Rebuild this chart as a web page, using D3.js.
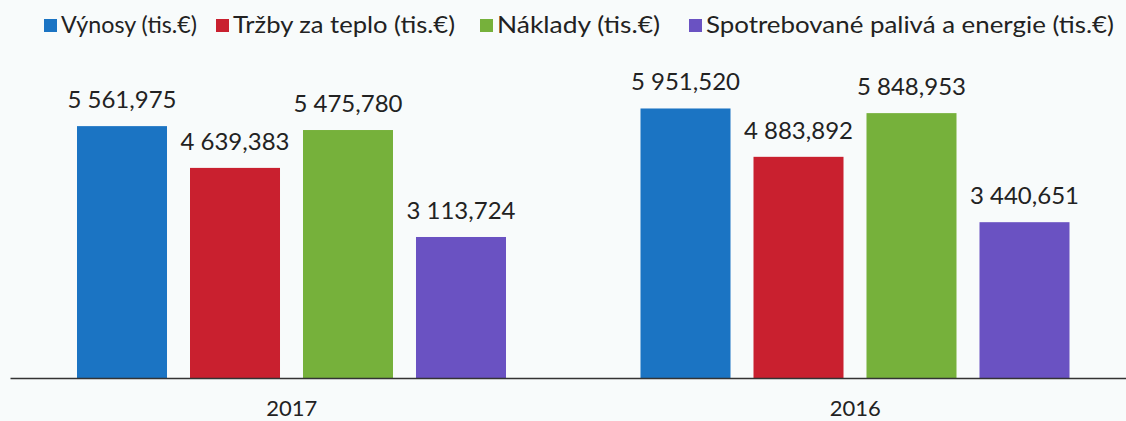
<!DOCTYPE html>
<html><head><meta charset="utf-8">
<script src="https://cdn.jsdelivr.net/npm/d3@7"></script>
<style>body{margin:0;background:#f8fbfb;}svg{display:block;}</style>
</head><body>
<svg id="c" width="1126" height="421"></svg>
<script>
const categories = ["2017", "2016"];
const seriesNames = ["Výnosy (tis.€)", "Tržby za teplo (tis.€)", "Náklady (tis.€)", "Spotrebované palivá a energie (tis.€)"];
const seriesColors = ["#1b74c3", "#c9202f", "#76b13b", "#6a52c2"];
const vynosy = [5561.975, 5951.520];
const trzby = [4639.383, 4883.892];
const naklady = [5475.780, 5848.953];
const spotreba = [3113.724, 3440.651];
const valueLabels = [["5 561,975","5 951,520"],["4 639,383","4 883,892"],["5 475,780","5 848,953"],["3 113,724","3 440,651"]];
const series = [vynosy, trzby, naklady, spotreba];

const svg = d3.select("#c");
const font = "Lato, 'Open Sans', sans-serif";
const x0 = d3.scaleBand().domain(categories).range([10, 1137]).paddingInner(0).paddingOuter(0);
const x1 = d3.scaleBand().domain(d3.range(series.length)).range([67, 496]).paddingInner(0.2035).paddingOuter(0);
const y = d3.scaleLinear().domain([0, 7000]).range([378, 61]);

const g = svg.append("g");
categories.forEach((c, ci) => {
  series.forEach((s, si) => {
    const bx = x0(c) + x1(si);
    g.append("rect").attr("x", bx).attr("y", y(s[ci])).attr("width", x1.bandwidth())
      .attr("height", y(0) - y(s[ci])).attr("fill", seriesColors[si]);
    g.append("text").attr("x", bx + x1.bandwidth()/2).attr("y", y(s[ci]) - 18)
      .attr("text-anchor", "middle").attr("font-family", font).attr("font-size", 24)
      .attr("fill", "#222").text(valueLabels[si][ci]);
  });
});

const xAxis = d3.axisBottom(x0).tickSize(0).tickPadding(22);
const ax = svg.append("g").attr("transform", `translate(0,${y(0)})`).call(xAxis);
ax.select(".domain").attr("stroke", "#333").attr("stroke-width", 1.5);
ax.selectAll("text").attr("font-family", font).attr("font-size", 22).attr("fill", "#222");

// legend
const legendX = [44, 216, 480, 689];
const legendW = [136, 222, 163, 408];
const lg = svg.append("g");
seriesNames.forEach((n, i) => {
  lg.append("rect").attr("x", legendX[i]).attr("y", 19).attr("width", 13).attr("height", 13).attr("fill", seriesColors[i]);
  lg.append("text").attr("x", legendX[i] + 17).attr("y", 33).attr("font-family", font).attr("font-size", 23)
    .attr("textLength", legendW[i]).attr("lengthAdjust", "spacingAndGlyphs")
    .attr("fill", "#222").text(n);
});
</script>
</body></html>
